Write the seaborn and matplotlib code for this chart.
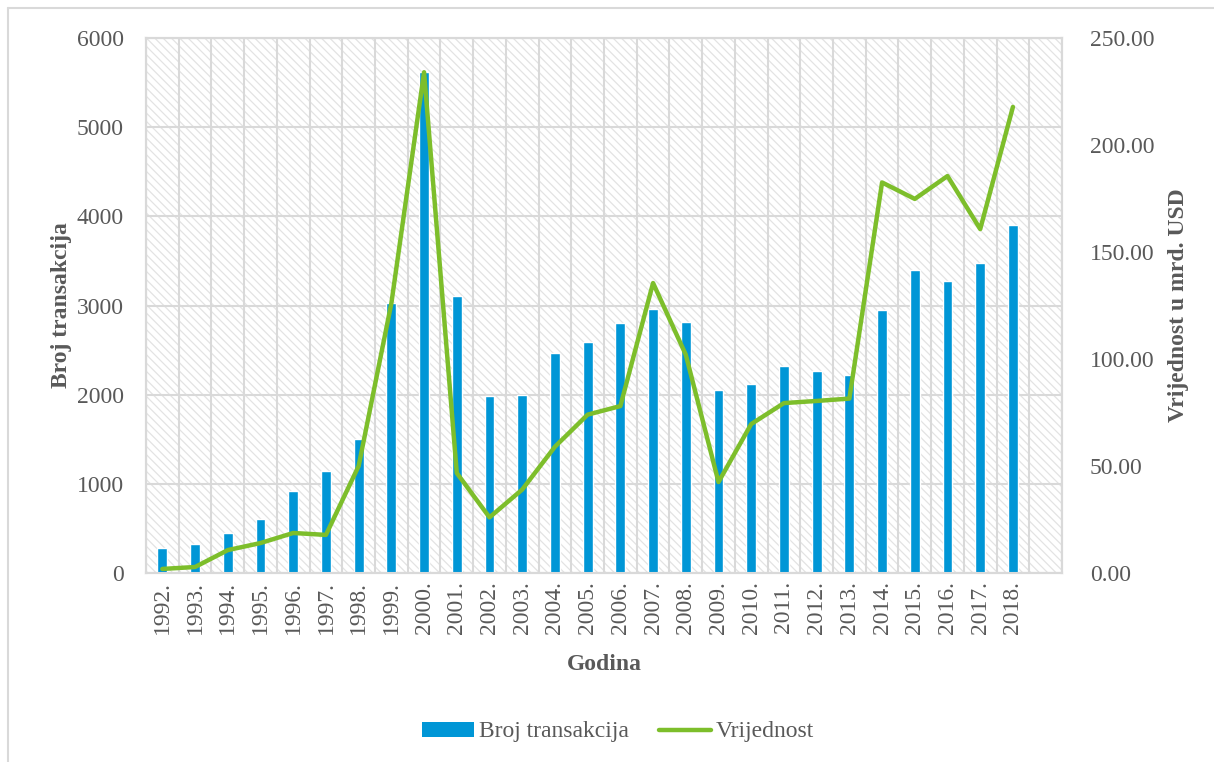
import numpy as np
import pandas as pd
import matplotlib
matplotlib.use("Agg")
import matplotlib.pyplot as plt
from matplotlib.patches import Rectangle, Patch
from matplotlib.lines import Line2D
import seaborn as sns

years = ["1992.", "1993.", "1994.", "1995.", "1996.", "1997.", "1998.", "1999.", "2000.",
         "2001.", "2002.", "2003.", "2004.", "2005.", "2006.", "2007.", "2008.", "2009.",
         "2010.", "2011.", "2012.", "2013.", "2014.", "2015.", "2016.", "2017.", "2018."]
broj_transakcija = [280, 325, 450, 605, 920, 1145, 1500, 3025, 5615, 3110, 1985, 1995, 2465,
                    2590, 2800, 2960, 2815, 2050, 2120, 2320, 2265, 2220, 2955, 3395, 3275,
                    3480, 3900]
vrijednost = [1.9, 2.8, 10.7, 14.0, 18.7, 17.8, 50.0, 126.0, 234.0, 46.7, 26.0, 39.0, 59.0,
              74.0, 78.0, 135.5, 102.0, 42.5, 69.6, 79.4, 80.4, 81.5, 182.5, 174.8, 185.5,
              160.7, 217.8]
left_ticks = [0, 1000, 2000, 3000, 4000, 5000, 6000]
right_ticks = [0, 50, 100, 150, 200, 250]

df = pd.DataFrame({"Godina": years, "Broj": broj_transakcija, "Vrijednost": vrijednost,
                   "pos": np.arange(len(years))})

sns.set_theme(style="white")
plt.rcParams["font.family"] = ["Liberation Serif", "DejaVu Serif"]
plt.rcParams["hatch.linewidth"] = 0.9

BLUE = "#0096D6"
GREEN = "#7DBE2B"
GRID = "#D9D9D9"
TXT = "#595959"
FS = 17

fig = plt.figure(figsize=(12.14, 7.62), dpi=100)
W, H = 1214, 762
ax = fig.add_axes([146 / W, 1 - 573 / H, 916 / W, 535 / H])

# hatched plot-area background
ax.add_patch(Rectangle((0, 0), 1, 1, transform=ax.transAxes, facecolor="white",
                       edgecolor="#E3E3E3", hatch="\\\\\\\\", linewidth=0, zorder=0))

sns.barplot(data=df, x="Godina", y="Broj", ax=ax, color=BLUE, width=0.3,
            saturation=1, zorder=3)
ax.set_xlim(-0.5, len(years) + 0.5)
ax.set_ylim(0, 6000)
ax.set_yticks(left_ticks)
ax.set_yticklabels([str(t) for t in left_ticks])
ax.set_xticks(np.arange(len(years)))
ax.set_xticklabels(years, rotation=90)
ax.set_xticks(np.arange(-0.5, len(years) + 1, 1), minor=True)

ax.set_axisbelow(True)
ax.grid(True, which="major", axis="y", color=GRID, linewidth=1.5, zorder=0.5)
ax.grid(True, which="minor", axis="x", color=GRID, linewidth=1.5, zorder=0.5)
ax.grid(False, which="major", axis="x")
ax.tick_params(axis="x", which="major", length=0, labelsize=FS, labelcolor=TXT, pad=6)
ax.tick_params(axis="x", which="minor", length=9, color=GRID, width=1.5, direction="out")
ax.tick_params(axis="y", length=0, labelsize=FS, labelcolor=TXT, pad=16)
for s in ax.spines.values():
    s.set_color(GRID)
    s.set_linewidth(1.5)

ax.set_xlabel("Godina", fontsize=FS, fontweight="bold", color=TXT, labelpad=14)
ax.set_ylabel("Broj transakcija", fontsize=FS, fontweight="bold", color=TXT, labelpad=3)

ax2 = ax.twinx()
sns.lineplot(data=df, x="pos", y="Vrijednost", ax=ax2, color=GREEN, linewidth=3.2,
             zorder=4)
ax2.set_ylim(0, 250)
ax2.set_yticks(right_ticks)
ax2.set_yticklabels([f"{t:.2f}" for t in right_ticks])
ax2.tick_params(axis="y", length=0, labelsize=FS, labelcolor=TXT, pad=20)
ax2.set_ylabel("Vrijednost u mrd. USD", fontsize=FS, fontweight="bold", color=TXT,
               labelpad=10)
ax2.set_xlim(-0.5, len(years) + 0.5)
for s in ax2.spines.values():
    s.set_color(GRID)
    s.set_linewidth(1.5)

handles = [Patch(facecolor=BLUE, edgecolor="none"),
           Line2D([0], [0], color=GREEN, linewidth=3.2, solid_capstyle="round")]
fig.legend(handles, ["Broj transakcija", "Vrijednost"], loc="center",
           bbox_to_anchor=(618 / W, 1 - 732 / H), ncol=2, frameon=False,
           fontsize=FS, labelcolor=TXT, handlelength=2.2, handleheight=0.6,
           handletextpad=0.2, columnspacing=1.3)

# outer chart border
fig.add_artist(Line2D([8 / W, 1], [1 - 8 / H, 1 - 8 / H], transform=fig.transFigure,
                      color=GRID, linewidth=1.5))
fig.add_artist(Line2D([8 / W, 8 / W], [0, 1 - 8 / H], transform=fig.transFigure,
                      color=GRID, linewidth=1.5))

fig.savefig("out.png", dpi=100)
